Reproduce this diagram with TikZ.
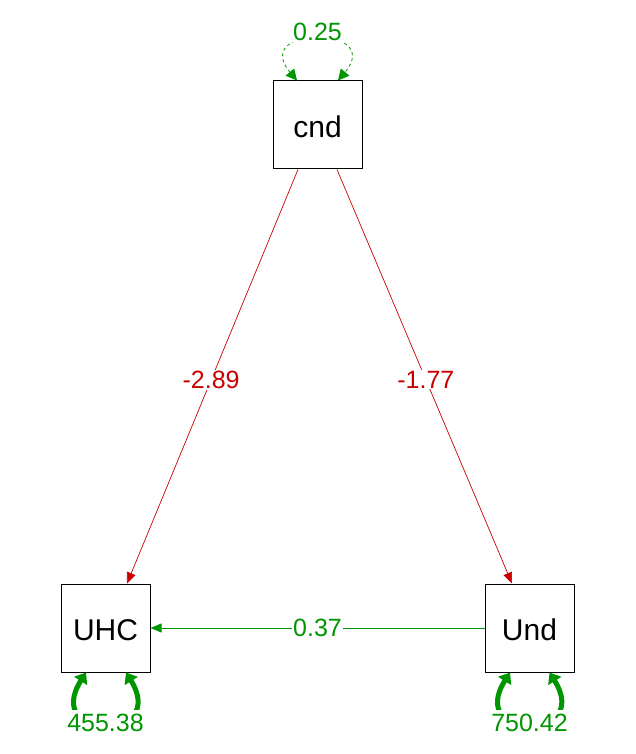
\documentclass[tikz,border=0pt]{standalone}
\usepackage{fontspec}
\setmainfont{Liberation Sans}
\usetikzlibrary{arrows.meta}
\definecolor{pgreen}{RGB}{0,150,0}
\definecolor{pred}{RGB}{200,0,0}
\tikzset{
  var/.style={draw=black, line width=1pt, minimum width=89pt, minimum height=88pt, font=\fontsize{30}{31}\selectfont, inner sep=0pt, text height=25pt, text depth=0pt},
  lab/.style={fill=white, inner sep=1pt, font=\fontsize{25}{26}\selectfont},
  redarr/.style={draw=pred, line width=0.7pt, -{Triangle[length=11pt,width=9pt]}},
  greenarr/.style={draw=pgreen, line width=1pt, -{Triangle[length=11pt,width=9pt]}},
  thinloop/.style={draw=pgreen, line width=0.8pt, dashed, {Triangle[length=11pt,width=11pt]}-{Triangle[length=11pt,width=11pt]}},
  thickloop/.style={draw=pgreen, line width=5pt, {Triangle[length=10pt,width=15pt]}-{Triangle[length=10pt,width=15pt]}}
}
\begin{document}
\begin{tikzpicture}[x=1pt,y=-1pt]
\useasboundingbox (0,0) rectangle (636,754);
\node[var] (cnd) at (317.5,125) {cnd};
\node[var] (UHC) at (105.5,628) {UHC};
\node[var] (Und) at (529.5,628) {Und};
% regressions
\draw[redarr] ([xshift=-19.5pt]cnd.south) -- node[lab, text=pred, pos=0.508] (l1) {-2.89} ([xshift=21.5pt]UHC.north);
\draw[redarr] ([xshift=19.5pt]cnd.south) -- node[lab, text=pred, pos=0.508] (l2) {-1.77} ([xshift=-17.5pt]Und.north);
\draw[greenarr] (Und.west) -- node[lab, text=pgreen] (l3) {0.37} (UHC.east);
% variances
\draw[thinloop] ([xshift=-20.5pt]cnd.north) .. controls (250,25) and (385,25) .. ([xshift=20.5pt]cnd.north);
\node[lab, text=pgreen] (v1) at (317.5,32) {0.25};
\draw[thickloop] ([xshift=-19.5pt]UHC.south) .. controls (42,742) and (169,742) .. ([xshift=20.5pt]UHC.south);
\node[lab, text=pgreen, inner ysep=4pt] (v2) at (105.5,723) {455.38};
\draw[thickloop] ([xshift=-19.5pt]Und.south) .. controls (466,742) and (593,742) .. ([xshift=20pt]Und.south);
\node[lab, text=pgreen, inner ysep=4pt] (v3) at (529.5,723) {750.42};
\end{tikzpicture}
\end{document}
